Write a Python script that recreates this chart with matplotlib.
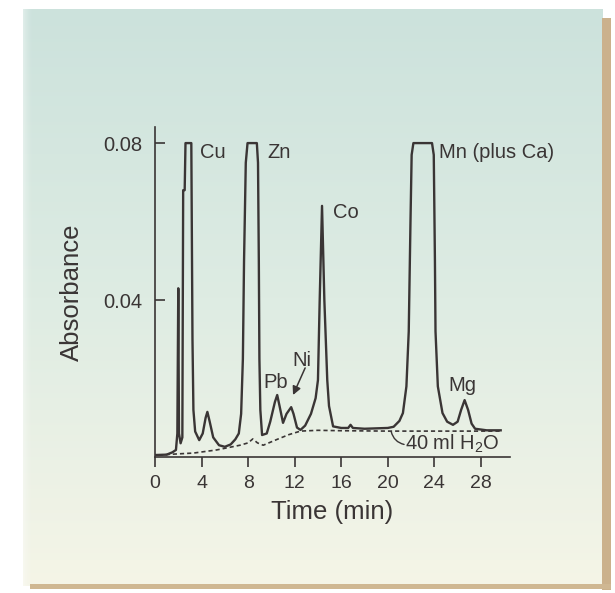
import numpy as np
import matplotlib.pyplot as plt

plt.rcParams['font.family'] = ['Liberation Sans', 'DejaVu Sans']
plt.rcParams['mathtext.fontset'] = 'custom'
plt.rcParams['mathtext.rm'] = 'Liberation Sans'

# chromatogram trace: time (min) and absorbance
trace_t = [0.0, 1.0, 1.5, 1.8, 1.92, 2.0, 2.06, 2.2, 2.35, 2.42, 2.55, 2.62, 3.12, 3.22,
           3.3, 3.45, 3.8, 4.1, 4.35, 4.5, 4.7, 5.0, 5.5, 6.0, 6.5, 6.9, 7.2, 7.4, 7.55,
           7.65, 7.8, 7.95, 8.75, 8.85, 8.92, 8.97, 9.05, 9.2, 9.6, 9.9, 10.3, 10.5, 10.7,
           11.0, 11.3, 11.7, 11.9, 12.2, 12.5, 12.9, 13.4, 13.8, 14.0, 14.15, 14.35, 14.55,
           14.8, 14.95, 15.3, 16.0, 16.6, 16.8, 17.0, 18.0, 19.0, 20.0, 20.5, 21.0, 21.3,
           21.6, 21.8, 21.95, 22.05, 22.2, 23.8, 23.95, 24.05, 24.1, 24.3, 24.7, 25.1, 25.6,
           26.0, 26.3, 26.6, 26.9, 27.2, 27.5, 28.5, 29.7]
trace_a = [0.0005, 0.0006, 0.0012, 0.0018, 0.006, 0.043, 0.006, 0.0035, 0.005, 0.068, 0.068,
           0.080, 0.080, 0.030, 0.012, 0.0065, 0.0043, 0.006, 0.010, 0.0115, 0.009, 0.005,
           0.003, 0.0026, 0.0032, 0.0045, 0.006, 0.011, 0.025, 0.050, 0.075, 0.080, 0.080,
           0.075, 0.050, 0.025, 0.012, 0.0056, 0.006, 0.009, 0.014, 0.0158, 0.013, 0.0087,
           0.011, 0.0127, 0.011, 0.0075, 0.0069, 0.008, 0.011, 0.015, 0.0196, 0.040, 0.064,
           0.040, 0.0196, 0.013, 0.0078, 0.0074, 0.0074, 0.0082, 0.0074, 0.0072, 0.0073,
           0.0074, 0.0077, 0.0092, 0.0112, 0.018, 0.032, 0.060, 0.077, 0.080, 0.080, 0.077,
           0.050, 0.032, 0.018, 0.0112, 0.009, 0.0082, 0.009, 0.012, 0.0145, 0.012, 0.0085,
           0.0072, 0.0068, 0.0068]

# water blank (40 ml H2O)
blank_t = [0.3, 2.0, 3.3, 5.3, 7.3, 8.0, 8.4, 8.8, 9.3, 10.5, 11.5, 12.5, 14.0, 16.0, 20.0,
           24.0, 28.0, 29.7]
blank_a = [0.0005, 0.0008, 0.001, 0.0018, 0.003, 0.0036, 0.0046, 0.0036, 0.003, 0.0045,
           0.0057, 0.0066, 0.0068, 0.0067, 0.0066, 0.0066, 0.0066, 0.0066]

peak_names = ['Cu', 'Zn', 'Co', 'Mn (plus Ca)', 'Pb', 'Ni', 'Mg']
peak_label_t = [3.87, 9.62, 15.3, 24.4, 9.28, 11.77, 25.17]
peak_label_a = [0.0777, 0.0775, 0.0622, 0.0777, 0.0191, 0.0247, 0.0181]

x_ticks = [0, 4, 8, 12, 16, 20, 24, 28]
y_ticks = [0.04, 0.08]
y_tick_labels = ['0.04', '0.08']

ink = '#3a3535'
W, H = 615, 593

fig = plt.figure(figsize=(W / 100, H / 100), dpi=100)
fig.patch.set_facecolor('white')

# backdrop panel with a teal-to-cream gradient
bg = fig.add_axes([0, 0, 1, 1], zorder=-1)
bg.set_xlim(0, W)
bg.set_ylim(H, 0)
bg.axis('off')
top = np.array([204, 226, 220]) / 255
mid = np.array([222, 236, 227]) / 255
bot = np.array([245, 245, 231]) / 255
s = np.linspace(0, 1, 300)[:, None]
grad = np.where(s < 0.5, top + (mid - top) * (s / 0.5), mid + (bot - mid) * ((s - 0.5) / 0.5))
grad = np.repeat(grad[:, None, :], 2, axis=1)
bg.add_patch(plt.Rectangle((602, 18), 9, 572, color='#cbb18c', lw=0))
bg.add_patch(plt.Rectangle((30, 584), 581, 5, color='#cfb792', lw=0))
bg.imshow(grad, extent=(23, 603, 586, 9), aspect='auto', interpolation='bilinear')
edge = np.linspace(0, 1, 20)
bg.imshow(np.dstack([np.ones((1, 20, 3)), (1 - edge)[None, :, None] ** 1.5]).reshape(1, 20, 4),
          extent=(14, 34, 586, 9), aspect='auto', interpolation='bilinear')

ax = fig.add_axes([155 / W, (H - 457) / H, (510 - 155) / W, (457 - 127) / H])
ax.set_facecolor('none')
ax.plot(trace_t, trace_a, color=ink, lw=1.7, solid_joinstyle='round')
ax.plot(blank_t, blank_a, color=ink, lw=1.2, linestyle=(0, (2.5, 1.8)))

ax.set_xlim(0, 30.5)
ax.set_ylim(0, 0.0841)
for side in ['top', 'right']:
    ax.spines[side].set_visible(False)
for side in ['left', 'bottom']:
    ax.spines[side].set_linewidth(1.2)
    ax.spines[side].set_color(ink)

ax.set_xticks(x_ticks)
ax.set_yticks(y_ticks)
ax.set_yticklabels(y_tick_labels)
ax.tick_params(axis='x', direction='out', length=7, width=1.2, color=ink,
               labelsize=14, labelcolor=ink, pad=6)
ax.tick_params(axis='y', direction='in', length=7, width=1.2, color=ink,
               labelsize=14.5, labelcolor=ink, pad=9)
ax.set_xlabel('Time (min)', fontsize=18.5, color=ink, labelpad=6)
ax.set_ylabel('Absorbance', fontsize=18.5, color=ink, labelpad=14)

for name, t, a in zip(peak_names, peak_label_t, peak_label_a):
    ax.text(t, a, name, fontsize=14.5, color=ink, ha='left', va='center')

# arrow pointing at the Ni shoulder
ax.annotate('', xy=(11.86, 0.0158), xytext=(12.9, 0.0227),
            arrowprops=dict(arrowstyle='-|>,head_length=0.5,head_width=0.25',
                            color=ink, lw=1.1, shrinkA=0, shrinkB=0))

# leader from the blank baseline to its label
ax.annotate('', xy=(20.3, 0.0064), xytext=(21.4, 0.0032),
            arrowprops=dict(arrowstyle='-', color=ink, lw=1.0, shrinkA=0, shrinkB=0,
                            connectionstyle='arc3,rad=-0.3'))
ax.text(21.5, 0.0034, '40 ml H$_\\mathregular{2}$O', fontsize=14.5, color=ink,
        ha='left', va='center')

fig.savefig('out.png', dpi=100)
